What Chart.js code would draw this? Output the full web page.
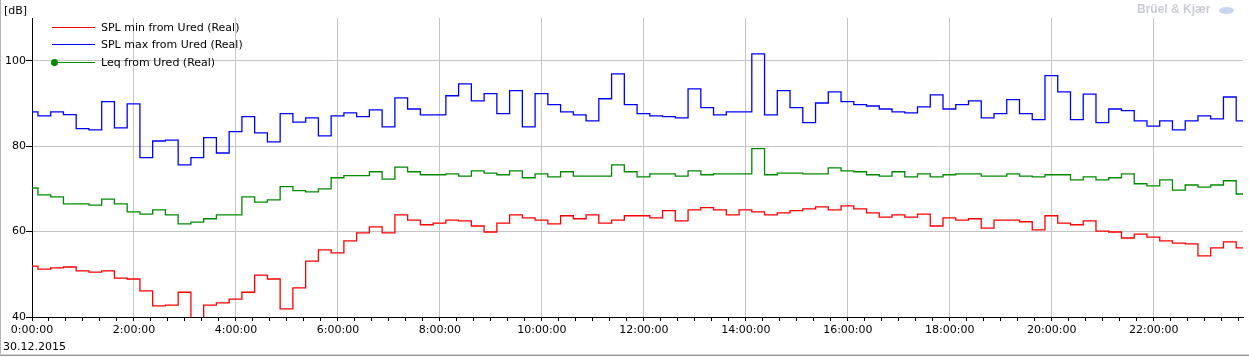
<!DOCTYPE html>
<html>
<head>
<meta charset="utf-8">
<script src="https://cdn.jsdelivr.net/npm/chart.js@4.4.1/dist/chart.umd.min.js"></script>
<style>
  html, body { margin: 0; padding: 0; background: #fff; }
  #wrap { position: relative; width: 1249px; height: 358px; overflow: hidden; font-family: "DejaVu Sans", sans-serif; font-size: 11px; color: #000; }
  #chart { position: absolute; left: 0; top: 0; }
  .txt { position: absolute; white-space: nowrap; line-height: 13px; }
  .leg { position: absolute; left: 52px; height: 13px; }
  .leg .ln { position: absolute; left: 0; top: 6px; width: 43px; height: 1px; }
  .leg .dot { position: absolute; left: -1px; top: 3px; width: 7px; height: 7px; border-radius: 50%; background: #008a00; }
  .leg .lab { position: absolute; left: 49px; top: 0; white-space: nowrap; }
</style>
</head>
<body>
<div id="wrap">
  <canvas id="chart" width="1249" height="358"></canvas>
  <div class="txt" style="left:4px;top:4px;">[dB]</div>
  <div class="txt" style="left:3px;top:340px;">30.12.2015</div>
  <div class="txt" style="left:1137px;top:3px;font-family:'Liberation Sans',Arial,sans-serif;font-weight:bold;font-size:12px;color:#c9ccd3;">Brüel &amp; Kjær</div>
  <div style="position:absolute;left:1219px;top:7px;width:15px;height:7px;border-radius:50%;background:#c6d6ee;"></div>
  <div id="legend"></div>
  <div style="position:absolute;left:0;top:0;width:1px;height:356px;background:#b4b4b4;"></div>
  <div style="position:absolute;left:0;top:354px;width:1249px;height:1px;background:#d0d0d0;"></div>
  <div style="position:absolute;left:0;top:355px;width:1249px;height:1px;background:#9a9a9a;"></div>
</div>
<script>
// 15 minute intervals, first one starts 8 min before midnight
const startMinute = -8;
const stepMinutes = 15;
const axisEndMinute = 1425;

const seriesNames = ['SPL min from Ured (Real)', 'SPL max from Ured (Real)', 'Leq from Ured (Real)'];
const seriesColors = ['#ff0000', '#0000ff', '#008a00'];

const splMin = [
  51.9, 51.2, 51.5, 51.7, 50.8, 50.5, 50.8, 49.1, 48.9, 46.1,
  42.6, 42.8, 45.8, 38.0, 42.8, 43.3, 44.2, 45.8, 49.8, 48.9,
  41.9, 46.8, 53.1, 55.7, 55.0, 57.8, 59.7, 61.1, 59.7, 63.9,
  62.7, 61.6, 62.0, 62.7, 62.5, 61.3, 59.9, 62.0, 63.9, 63.2,
  62.7, 61.8, 63.7, 63.0, 63.9, 62.0, 62.7, 63.7, 63.7, 63.2,
  64.9, 62.5, 65.1, 65.6, 65.1, 63.9, 65.1, 64.6, 63.9, 64.4,
  64.9, 65.3, 65.8, 65.1, 66.0, 65.3, 64.4, 63.4, 63.9, 63.4,
  64.1, 61.3, 63.2, 62.7, 63.0, 60.8, 62.7, 62.7, 62.3, 60.4,
  63.7, 62.0, 61.6, 62.5, 60.1, 59.9, 58.5, 59.4, 58.7, 57.8,
  57.3, 57.1, 54.3, 56.2, 57.6, 56.2
];

const splMax = [
  88.0, 87.1, 88.0, 87.4, 84.1, 83.8, 90.4, 84.3, 89.9, 77.3,
  81.2, 81.4, 75.6, 77.3, 82.0, 78.4, 83.4, 86.9, 83.1, 81.0,
  87.6, 85.6, 86.6, 82.4, 87.1, 87.8, 86.9, 88.5, 84.5, 91.3,
  88.7, 87.3, 87.3, 91.8, 94.6, 90.6, 92.3, 87.6, 93.0, 84.5,
  92.3, 89.7, 88.0, 87.3, 85.9, 91.1, 96.9, 89.7, 87.6, 87.1,
  86.9, 86.6, 93.4, 89.0, 87.3, 88.0, 88.0, 101.6, 87.3, 93.0,
  89.0, 85.5, 90.1, 92.7, 90.4, 89.7, 89.4, 88.7, 88.0, 87.8,
  89.2, 92.0, 88.7, 89.7, 90.6, 86.6, 87.6, 90.9, 87.6, 86.2,
  96.5, 92.7, 86.2, 92.2, 85.5, 88.7, 88.3, 85.9, 84.7, 85.9,
  83.8, 85.9, 87.1, 86.4, 91.5, 85.9
];

const leq = [
  70.2, 68.6, 68.1, 66.5, 66.5, 66.2, 67.6, 66.5, 64.6, 64.1,
  65.1, 63.9, 61.8, 62.2, 63.0, 63.9, 63.9, 68.1, 66.9, 67.4,
  70.5, 69.6, 69.3, 70.0, 72.6, 73.1, 73.1, 74.0, 72.3, 75.1,
  74.0, 73.3, 73.3, 73.5, 73.0, 74.2, 73.7, 73.3, 74.2, 72.6,
  73.5, 72.8, 74.0, 73.0, 73.0, 73.0, 75.6, 74.0, 72.8, 73.5,
  73.5, 73.0, 74.2, 73.3, 73.5, 73.5, 73.5, 79.4, 73.3, 73.7,
  73.7, 73.5, 73.5, 74.9, 74.2, 74.0, 73.3, 73.0, 74.0, 72.8,
  73.5, 72.8, 73.3, 73.5, 73.5, 73.0, 73.0, 73.5, 73.0, 72.8,
  73.3, 73.3, 72.1, 72.8, 72.1, 72.6, 73.5, 71.2, 70.7, 72.1,
  69.7, 70.9, 70.4, 70.9, 71.9, 68.8
];

// each value holds for one interval; last point closes the final step
function toSteps(values) {
  const pts = values.map((v, i) => ({ x: startMinute + stepMinutes * i, y: v }));
  pts.push({ x: startMinute + stepMinutes * values.length, y: values[values.length - 1] });
  return pts;
}

const allSeries = [splMin, splMax, leq];

// legend
const legendEl = document.getElementById('legend');
const legendRows = [21, 38, 56];
seriesNames.forEach((name, i) => {
  const row = document.createElement('div');
  row.className = 'leg';
  row.style.top = legendRows[i] + 'px';
  row.innerHTML = '<div class="ln" style="background-color:' + seriesColors[i] + '"></div>' +
    (i === 2 ? '<div class="dot"></div>' : '') +
    '<div class="lab">' + name + '</div>';
  legendEl.appendChild(row);
});

Chart.defaults.font.family = '"DejaVu Sans", sans-serif';
Chart.defaults.font.size = 11;
Chart.defaults.color = '#000';

const ctx = document.getElementById('chart').getContext('2d');
const chart = new Chart(ctx, {
  type: 'line',
  data: {
    datasets: allSeries.map((vals, i) => ({
      label: seriesNames[i],
      data: toSteps(vals),
      borderColor: seriesColors[i],
      borderWidth: 1.3,
      pointRadius: 0,
      stepped: 'before',
      fill: false
    }))
  },
  options: {
    responsive: false,
    animation: false,
    devicePixelRatio: 1,
    layout: { padding: { left: 0, top: 18, right: 6, bottom: 0 } },
    plugins: {
      legend: { display: false },
      tooltip: { enabled: false }
    },
    scales: {
      x: {
        type: 'linear',
        min: 0,
        max: axisEndMinute,
        afterFit: (scale) => { scale.height = 41; },
        border: { display: true, color: '#000', width: 1 },
        grid: {
          color: (c) => (c.tick && c.tick.value > 0 && c.tick.value % 120 === 0) ? '#c4c4c4' : 'rgba(0,0,0,0)',
          tickColor: '#000',
          tickLength: 4,
          lineWidth: 1
        },
        ticks: {
          stepSize: 20,
          includeBounds: false,
          autoSkip: false,
          maxRotation: 0,
          padding: 3,
          callback: (v) => (v % 120 === 0) ? (v / 60) + ':00:00' : ''
        }
      },
      y: {
        min: 40,
        max: 110,
        afterFit: (scale) => { scale.width = 32; },
        border: { display: true, color: '#000', width: 1 },
        grid: {
          color: (c) => (c.tick && c.tick.value > 40) ? '#c4c4c4' : 'rgba(0,0,0,0)',
          tickColor: '#000',
          tickLength: 6,
          lineWidth: 1
        },
        ticks: {
          stepSize: 20,
          includeBounds: false,
          padding: 0
        }
      }
    }
  }
});
</script>
</body>
</html>
